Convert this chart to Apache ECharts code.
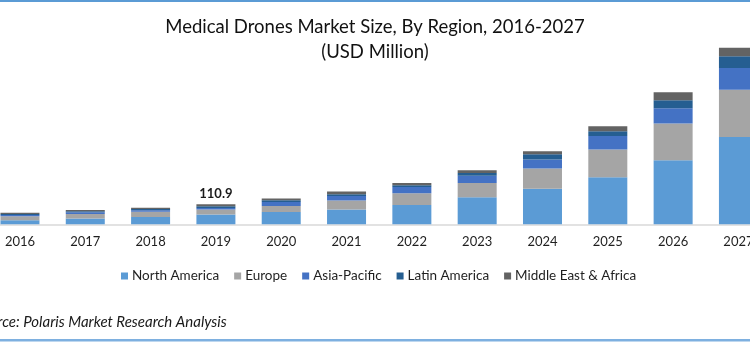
<!DOCTYPE html>
<html>
<head>
<meta charset="utf-8">
<script src="https://cdn.jsdelivr.net/npm/echarts@6/dist/echarts.min.js"></script>
<style>
  html, body { margin: 0; padding: 0; background: #ffffff; }
  #chart { width: 750px; height: 342px; }
</style>
</head>
<body>
<div id="chart"></div>
<script>
// Medical drones market size by region, USD million
const years = ['2016', '2017', '2018', '2019', '2020', '2021', '2022', '2023', '2024', '2025', '2026', '2027'];
const northAmerica = [22.0, 31.5, 40.5, 53.8, 68.2, 81.5, 107.0, 149.7, 196.8, 260.6, 354.9, 484.0];
const europe       = [22.0, 26.0, 29.5, 27.7, 33.3, 49.9, 64.9, 79.3, 112.6, 153.6, 203.5, 262.8];
const asiaPacific  = [7.0, 9.0, 8.0, 9.4, 22.2, 26.1, 34.9, 40.5, 49.9, 76.0, 84.8, 119.8];
const latinAmerica = [5.5, 5.5, 7.0, 9.4, 9.4, 9.4, 9.4, 15.0, 29.4, 26.0, 44.4, 64.9];
const middleEastAfrica = [7.5, 7.5, 7.0, 10.6, 9.4, 15.0, 12.8, 15.0, 16.6, 27.7, 44.4, 48.2];
const labelledYear = '2019';

const regionNames = ['North America', 'Europe', 'Asia-Pacific', 'Latin America', 'Middle East & Africa'];
const regionValues = [northAmerica, europe, asiaPacific, latinAmerica, middleEastAfrica];
const regionColors = ['#5b9bd5', '#a5a5a5', '#4472c4', '#255e91', '#636363'];

const FONT = 'Lato, "Open Sans", sans-serif';

function yearTotal(i) {
  return regionValues.reduce((s, arr) => s + arr[i], 0);
}

const series = regionNames.map((name, k) => {
  const isTop = k === regionNames.length - 1;
  return {
    name: name,
    type: 'bar',
    stack: 'total',
    barWidth: 39,
    itemStyle: { color: regionColors[k] },
    emphasis: { disabled: true },
    data: regionValues[k].map((v, i) => {
      const item = { value: v };
      if (isTop && years[i] === labelledYear) {
        item.label = {
          show: true,
          position: 'top',
          distance: 4,
          formatter: () => yearTotal(i).toFixed(1),
          fontFamily: FONT,
          fontWeight: 'bold',
          fontSize: 13,
          color: '#1a1a1a'
        };
      }
      return item;
    })
  };
});

const chart = echarts.init(document.getElementById('chart'), null, { renderer: 'canvas' });
chart.setOption({
  animation: false,
  backgroundColor: '#ffffff',
  title: {
    text: 'Medical Drones Market Size, By Region, 2016-2027\n(USD Million)',
    left: 'center',
    top: 10,
    textStyle: {
      fontFamily: FONT,
      fontSize: 18.5,
      fontWeight: 'normal',
      color: '#111111',
      lineHeight: 25
    }
  },
  legend: {
    data: regionNames,
    left: 116,
    top: 264,
    itemWidth: 7,
    itemHeight: 7,
    itemGap: 15,
    icon: 'rect',
    textStyle: { fontFamily: FONT, fontSize: 13.5, color: '#1f1f1f', padding: [0, 0, 0, -1] }
  },
  grid: {
    left: -12.7,
    width: 783.8,
    top: 44,
    bottom: 117.7,
    outerBoundsMode: 'none',
    containLabel: false
  },
  xAxis: {
    type: 'category',
    data: years,
    axisLine: { show: true, lineStyle: { color: '#d9d9d9', width: 1.5 } },
    axisTick: { show: false },
    axisLabel: {
      fontFamily: FONT,
      fontSize: 13,
      color: '#1f1f1f',
      margin: 11,
      interval: 0
    }
  },
  yAxis: {
    type: 'value',
    min: 0,
    max: 1000,
    show: false,
    splitLine: { show: false }
  },
  graphic: [
    {
      type: 'rect',
      shape: { x: 0, y: 0, width: 750, height: 2 },
      style: { fill: '#5b9bd5' }
    },
    {
      type: 'rect',
      shape: { x: 0, y: 339, width: 750, height: 2.5 },
      style: { fill: '#7eb0e0' }
    },
    {
      type: 'text',
      x: -26,
      y: 315,
      style: {
        text: 'Source: Polaris Market Research Analysis',
        font: 'italic 15px ' + FONT,
        fill: '#1a1a1a'
      }
    }
  ],
  series: series
});
</script>
</body>
</html>
